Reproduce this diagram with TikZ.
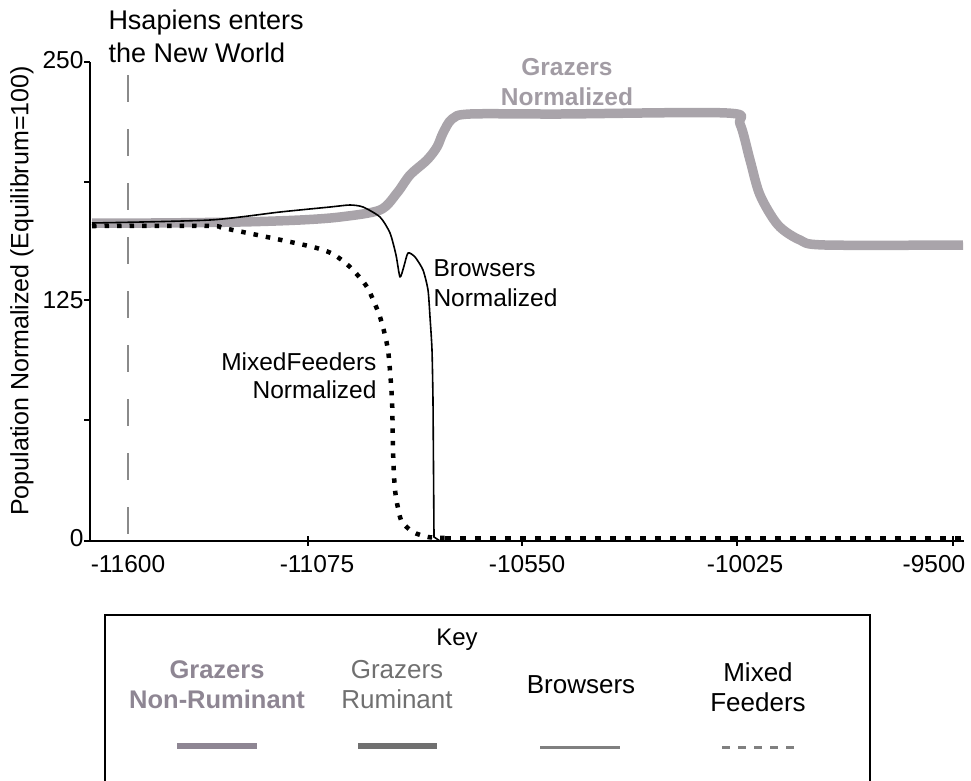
\documentclass[tikz,border=0pt]{standalone}
\usepackage{fontspec}
\setmainfont{Liberation Sans}
\usetikzlibrary{positioning}

\definecolor{grazgray}{HTML}{A9A4AA}
\definecolor{grazlbl}{HTML}{A29CA4}
\definecolor{nonrum}{HTML}{8E8693}
\definecolor{rumgray}{HTML}{707070}
\definecolor{keygray}{HTML}{808080}
\definecolor{hsgray}{HTML}{8A8A8A}

\begin{document}
\begin{tikzpicture}[x=1pt, y=-1pt, line width=1pt,
  lbl/.style={font=\fontsize{24.5}{30}\selectfont, inner sep=0pt},
  keylbl/.style={font=\fontsize{26}{30}\selectfont, inner sep=0pt, align=center},
  tick/.style={line width=1.2pt}]

\useasboundingbox (0,0) rectangle (971,780);

% Achsen
\draw[line width=1.5pt] (90,62) -- (90,541) -- (964,541);
\foreach \yy in {62,182,300,420,541}
  \draw[tick] (84,\yy) -- (90,\yy);
\foreach \xx in {308,522,737,953}
  \draw[tick] (\xx,536) -- (\xx,546);

\node[lbl, anchor=east] (y250) at (84,60) {250};
\node[lbl, anchor=east] (y125) at (84,300) {125};
\node[lbl, anchor=east] (y0) at (84,538) {0};
\node[lbl, font=\fontsize{25}{30}\selectfont, rotate=90] (ytitle) at (22,291) {Population Normalized (Equilibrum=100)};

\node[lbl] (x1) at (128,564) {-11600};
\node[lbl] (x2) at (317,564) {-11075};
\node[lbl] (x3) at (527,564) {-10550};
\node[lbl] (x4) at (745,564) {-10025};
\node[lbl] (x5) at (934,564) {-9500};

% Hsapiens
\draw[hsgray, line width=1.8pt, dash pattern=on 27pt off 27pt] (128,75) -- (128,541);
\node[lbl, font=\fontsize{27}{32}\selectfont, anchor=base west] (hs1) at (108,29) {Hsapiens enters};
\node[lbl, font=\fontsize{27}{32}\selectfont, anchor=base west] (hs2) at (108,62) {the New World};

% Grazers
\draw[grazgray, line width=9.5pt, line join=round] plot[smooth, tension=0.5] coordinates {
  (92,223) (150,223) (240,222) (300,220) (340,217) (380,210) (397,193)
  (410,175) (427,160) (437,147) (443,133) (452,119) (470,114) (560,114)
  (727,113) (740,124) (750,160) (760,195) (778,225) (800,240) (825,245) (963,245)};
\node[lbl, font=\fontsize{24.5}{30}\bfseries, text=grazlbl] (glbl1) at (567,67) {Grazers};
\node[lbl, font=\fontsize{24.5}{30}\bfseries, text=grazlbl] (glbl2) at (567,97) {Normalized};

% Browsers
\draw[line width=1.6pt, line join=round] plot[smooth, tension=0.4] coordinates {
  (92,223) (210,220) (280,212) (330,207) (350,205) (363,207) (380,217)
  (390,233) (396,255) (400,277) (404,266) (408,253) (415,257) (423,270)
  (428,290) (430,317) (432,350) (433,400)};
\draw[line width=1.6pt] (433,400) -- (434,537) -- (440,541);
\node[lbl, anchor=west] (blbl1) at (433,268) {Browsers};
\node[lbl, anchor=west] (blbl2) at (433,298) {Normalized};

% MixedFeeders
\draw[line width=4.5pt, dash pattern=on 4.5pt off 8pt] plot[smooth, tension=0.4] coordinates {
  (92,226) (210,226) (223,228) (267,237) (313,247) (333,254) (350,267)
  (367,287) (380,317) (388,350) (392,400) (393,450) (395,490) (401,520)
  (413,532) (428,537) (445,538)};
\draw[line width=4.5pt, dash pattern=on 6pt off 9pt] (445,538) -- (963,538);
\node[lbl, anchor=east] (mlbl1) at (377,362) {MixedFeeders};
\node[lbl, anchor=east] (mlbl2) at (377,390) {Normalized};

% Key
\draw[line width=1.5pt] (105,790) -- (105,615) -- (870,615) -- (870,790);
\node[keylbl, font=\fontsize{24}{30}\selectfont] (key) at (457,640) {Key};
\node[keylbl, font=\fontsize{25.5}{30}\bfseries, text=nonrum] (k1) at (217,685) {Grazers\\Non-Ruminant};
\node[keylbl, text=rumgray] (k2) at (397,685) {Grazers\\Ruminant};
\node[keylbl] (k3) at (581,685) {Browsers};
\node[keylbl] (k4) at (758,687) {Mixed\\Feeders};

\draw[nonrum, line width=6pt] (177,746) -- (257,746);
\draw[rumgray, line width=6pt] (358,746) -- (437,746);
\draw[keygray, line width=3pt] (540,747) -- (620,747);
\draw[keygray, line width=3pt, dash pattern=on 8pt off 8pt] (722,747) -- (797,747);

\end{tikzpicture}
\end{document}
